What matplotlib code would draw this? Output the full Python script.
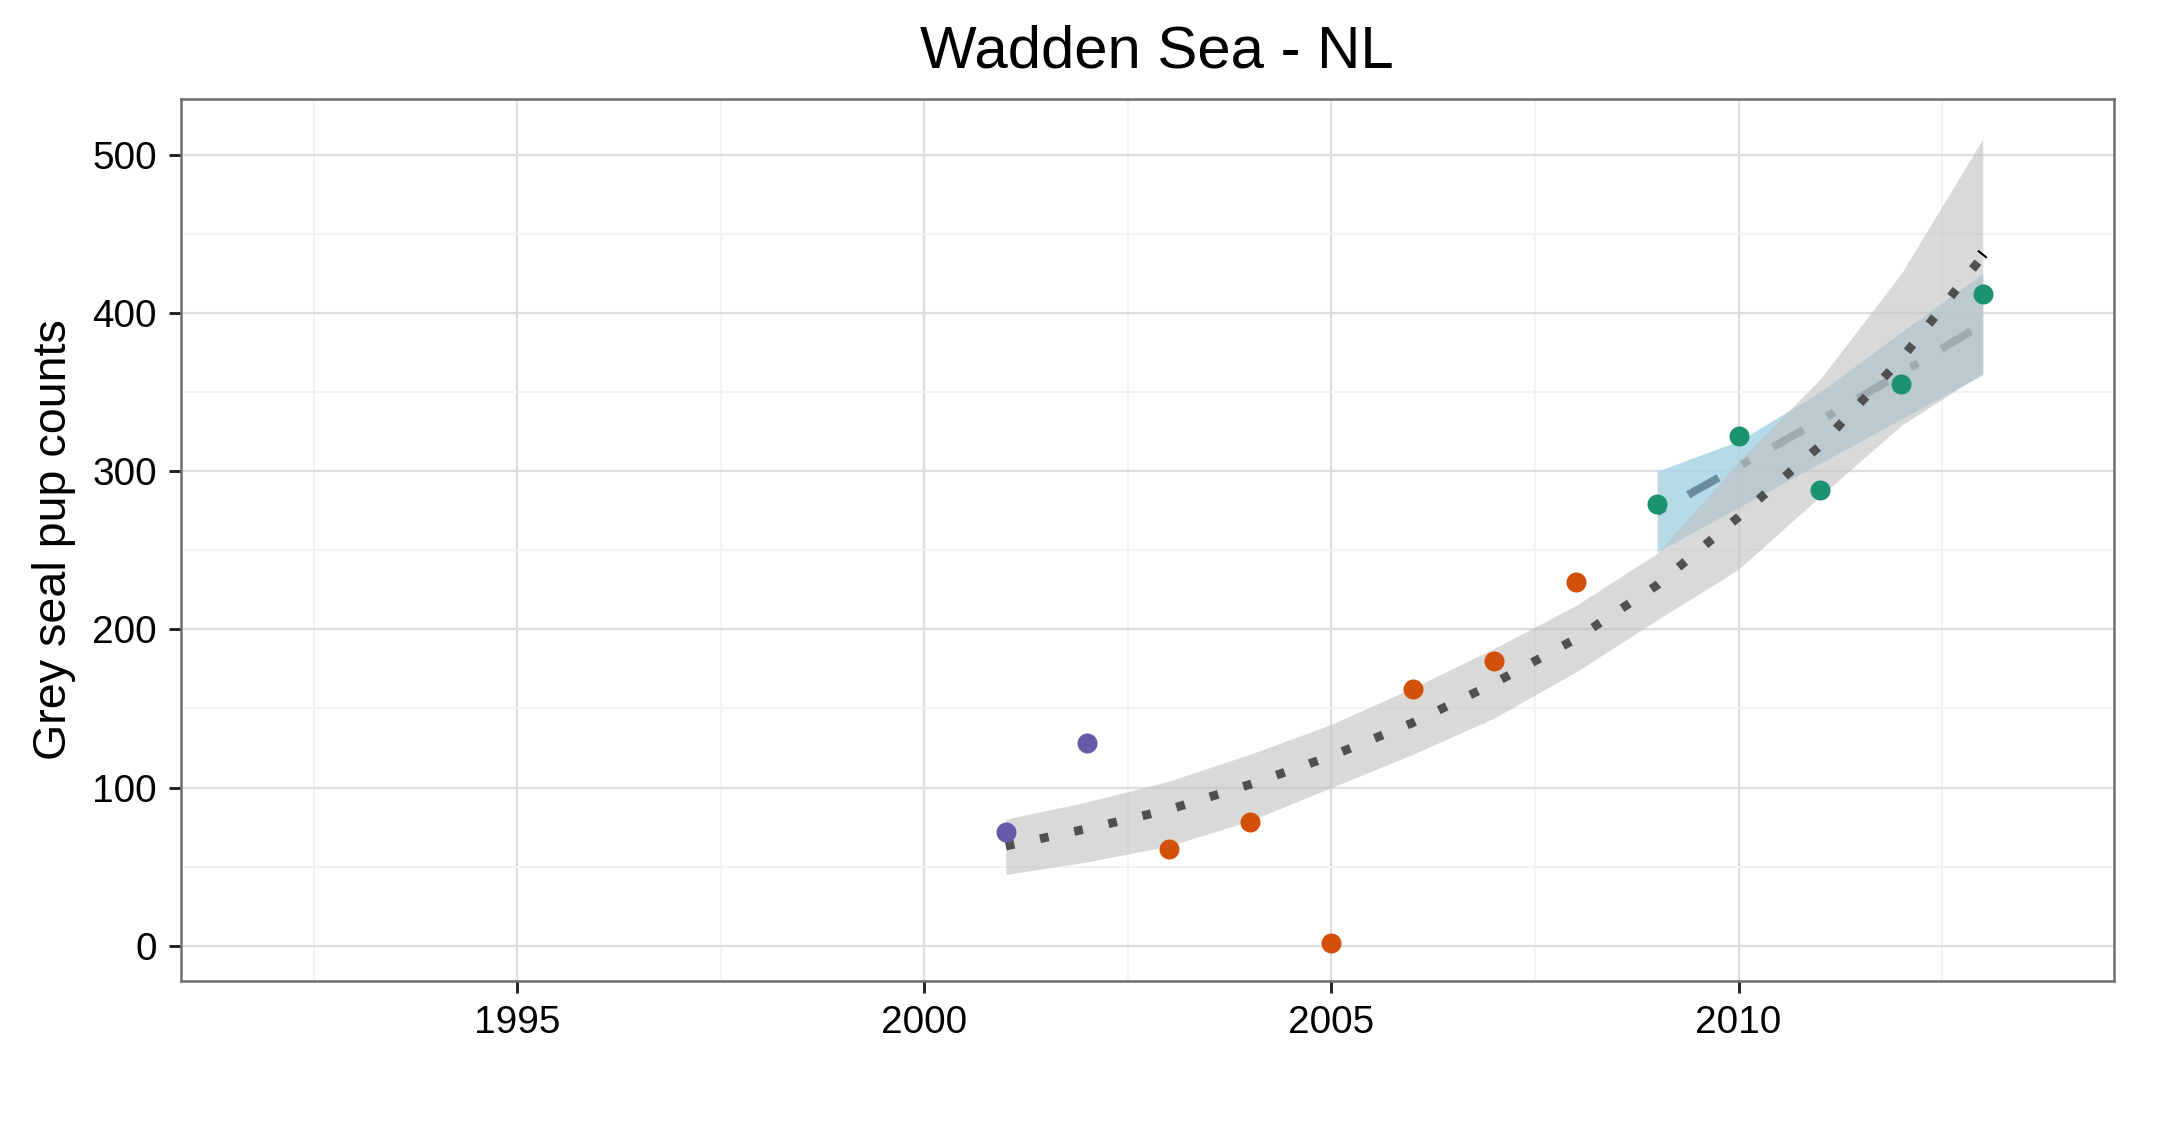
import matplotlib.pyplot as plt

plt.rcParams['font.family'] = ['Liberation Sans', 'DejaVu Sans']

# counts per year
years = [2001, 2002, 2003, 2004, 2005, 2006, 2007, 2008, 2009, 2010, 2011, 2012, 2013]
counts = [72, 128, 61, 78, 2, 162, 180, 230, 279, 322, 288, 355, 412]
period = ['a', 'a', 'b', 'b', 'b', 'b', 'b', 'b', 'c', 'c', 'c', 'c', 'c']
period_colors = {'a': '#635ca8', 'b': '#d2500a', 'c': '#1b9270'}

# long trend (grey ribbon + dotted line)
fit_mid = [63, 74, 86, 102, 120, 141, 166, 194, 228, 271, 316, 371, 436]
fit_lo = [45, 53, 63, 79, 100, 121, 144, 173, 206, 238, 284, 329, 362]
fit_hi = [80, 91, 104, 121, 140, 163, 188, 215, 248, 306, 358, 425, 510]

# recent trend (blue ribbon + dashed line)
rec_years = [2009, 2010, 2011, 2012, 2013]
rec_mid = [274, 303, 332, 362, 393]
rec_lo = [249, 277, 305, 333, 361]
rec_hi = [300, 319, 350, 388, 425]

seg_x = [2012.95, 2013.04]
seg_y = [439, 435.3]

fig = plt.figure(figsize=(2179 / 300, 1125 / 300), dpi=300)
ax = fig.add_axes([0.0831, 0.128, 0.8870, 0.7843])

ax.fill_between(rec_years, rec_lo, rec_hi, color='#a8d5e6', alpha=0.85, lw=0, zorder=2)
ax.plot(rec_years, rec_mid, color='#6a8c9e', lw=1.9, dashes=(1.1, 3.4, 4.4, 3.4),
        dash_capstyle='butt', zorder=3)
ax.fill_between(years, fit_lo, fit_hi, color='#c0c0c0', alpha=0.6, lw=0, zorder=4)
ax.plot(years, fit_mid, color='#505050', lw=2.1, dashes=(1, 3), dash_capstyle='butt', zorder=5)
ax.plot(seg_x, seg_y, color='black', lw=0.5, zorder=5)

for p in ['a', 'b', 'c']:
    xs = [y for y, g in zip(years, period) if g == p]
    ys = [c for c, g in zip(counts, period) if g == p]
    ax.plot(xs, ys, 'o', ms=4.8, mew=0, color=period_colors[p], zorder=6)

ax.set_xlim(1990.87, 2014.61)
ax.set_ylim(-22.3, 535.5)
ax.set_xticks([1995, 2000, 2005, 2010])
ax.set_xticks([1992.5, 1997.5, 2002.5, 2007.5, 2012.5], minor=True)
ax.set_yticks([0, 100, 200, 300, 400, 500])
ax.set_yticks([50, 150, 250, 350, 450], minor=True)

ax.set_axisbelow(True)
ax.grid(True, which='major', color='#dedede', lw=0.55)
ax.grid(True, which='minor', color='#f3f3f3', lw=0.45)
ax.tick_params(which='major', length=2.9, width=0.7, color='#222222', labelsize=9.3,
               labelcolor='black', pad=2.9)
ax.tick_params(which='minor', length=0)
for s in ax.spines.values():
    s.set_color('#6e6e6e')
    s.set_linewidth(0.6)

ax.set_ylabel('Grey seal pup counts', fontsize=11.2, labelpad=3.8)
ax.set_title('Wadden Sea - NL', fontsize=14.4, pad=7.4, x=0.505)

plt.savefig('out.png', dpi=300)
